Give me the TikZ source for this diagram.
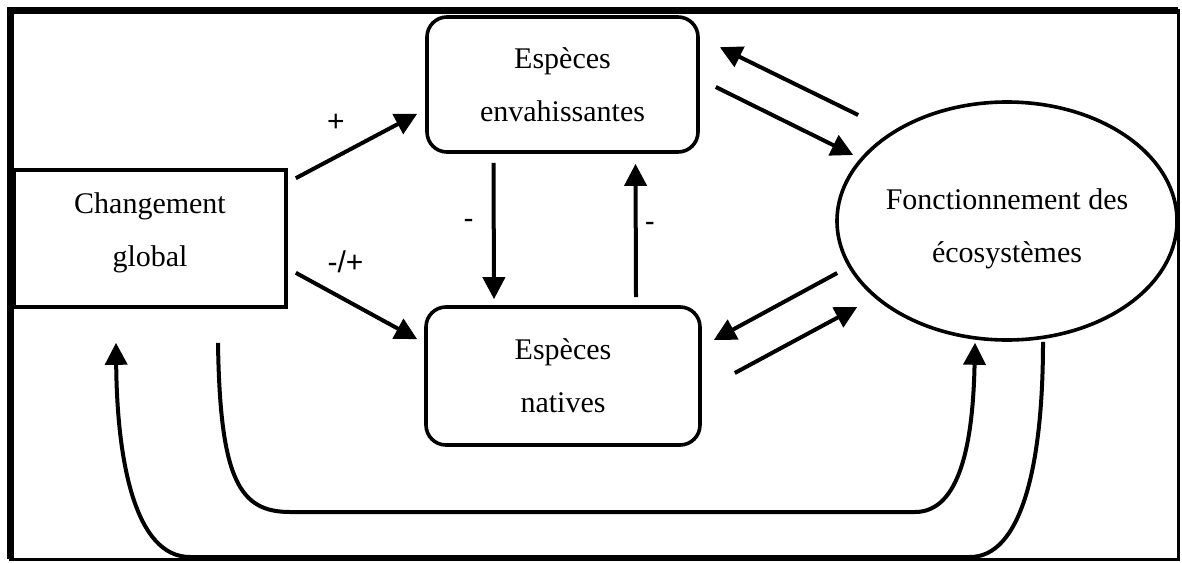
\documentclass[tikz,border=0pt]{standalone}
\usepackage{fontspec}
\setmainfont{Liberation Serif}
\newfontfamily\signfont{Liberation Sans}
\usetikzlibrary{arrows.meta, positioning, shapes.geometric, calc}

\begin{document}
\begin{tikzpicture}[x=0.5pt, y=-0.5pt,
    box/.style={draw, line width=1.8pt, align=center, inner sep=0pt,
      font=\fontsize{15}{26.5}\selectfont},
    sqbox/.style={box, minimum width=136pt, minimum height=68.5pt},
    rbox/.style={box, rounded corners=10pt},
    ecobox/.style={box, ellipse, inner xsep=-2pt,
      minimum width=170pt, minimum height=119pt},
    arr/.style={-{Triangle[length=11pt, width=11pt]}, line width=2pt},
    sign/.style={font=\signfont\fontsize{15}{18}\selectfont, inner sep=1pt}]

\useasboundingbox (0,0) rectangle (1182,562);
\fill[white] (0,0) rectangle (1182,562);

% ===== FRAME =====
\draw[line width=1.5pt] (10,10) rectangle (1178,559);
\draw[line width=3.5pt] (10,559) -- (10,10) -- (1178,10);

% ===== NODES =====
\node[sqbox, text depth=8.5pt] (cg) at (150,238.5) {Changement\\global};
\node[rbox, minimum width=135.5pt, minimum height=67.5pt]
      (inv) at (562.5,84.5) {Espèces\\envahissantes};
\node[rbox, minimum width=137pt, minimum height=69pt]
      (nat) at (563,376) {Espèces\\natives};
\node[ecobox, text height=41pt, text depth=0pt]
      (eco) at (1007,221) {Fonctionnement des\\écosystèmes};

% ===== GLOBAL CHANGE -> SPECIES =====
\draw[arr] ($(cg.north east)+(8,10)$) -- ($(inv.south west)+(-8,-40)$)
      node[sign, pos=0.33, yshift=17pt] {+};
\draw[arr] ($(cg.south east)+(8,-36)$) -- ($(nat.north west)+(-7,34)$)
      node[sign, pos=0.41, yshift=19pt] {-/+};

% Interactions between species
\draw[arr] ($(inv.south)+(-69,9)$) -- ($(nat.north)+(-69,-6)$)
      node[sign, pos=0.45, xshift=-12.5pt] {-};
\draw[arr] ($(nat.north)+(73,-8)$) -- ($(inv.south)+(73,10)$)
      node[sign, pos=0.53, xshift=7pt] {-};

% ===== SPECIES <-> ECOSYSTEMS =====
\draw[arr] ($(eco.west)+(23,-106)$) -- ($(inv.north east)+(20,32)$);
\draw[arr] ($(inv.east)+(16,2.5)$) -- ($(eco.west)+(18,-66)$);
\draw[arr] ($(eco.west)+(2,52)$) -- ($(nat.east)+(12,-36)$);
\draw[arr] ($(nat.east)+(33,-3)$) -- ($(eco.west)+(22,86)$);

% ===== FEEDBACK LOOPS (bottom) =====
\coordinate (in1) at (290,512);
\coordinate (in2) at (915,512);
\coordinate (out1) at (970,557);
\coordinate (out2) at (190,557);

\draw[arr] ($(cg.south)+(68,34)$) .. controls +(2,138) and +(-50,0) .. (in1)
      -- (in2) .. controls +(45,0) and +(-2,100) .. ($(eco.south)+(-32,1)$);
\draw[arr] ($(eco.south)+(36,0)$) .. controls +(0,128) and +(50,0) .. (out1)
      -- (out2) .. controls +(-55,0) and +(1,118) .. ($(cg.south)+(-34,34)$);

\end{tikzpicture}
\end{document}
